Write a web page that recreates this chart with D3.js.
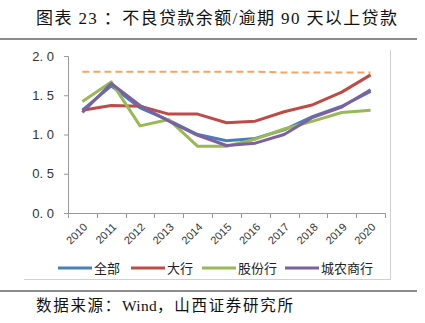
<!DOCTYPE html>
<html><head><meta charset="utf-8">
<script src="https://cdn.jsdelivr.net/npm/d3@7"></script>
<style>
html,body{margin:0;padding:0;background:#fff;}
svg{display:block;}
text{white-space:pre;}
</style></head>
<body>
<svg id="c" width="425" height="323"></svg>
<script>
const years = ["2010","2011","2012","2013","2014","2015","2016","2017","2018","2019","2020"];
const allBanks   = [1.31,1.62,1.34,1.18,1.00,0.92,0.95,1.06,1.23,1.36,1.55];
const bigBanks   = [1.31,1.37,1.36,1.26,1.26,1.15,1.17,1.29,1.38,1.54,1.76];
const jointStock = [1.42,1.67,1.11,1.19,0.85,0.85,0.94,1.07,1.17,1.28,1.31];
const cityRural  = [1.28,1.65,1.37,1.17,0.99,0.86,0.89,1.00,1.22,1.35,1.57];
const refLine    = [1.80,1.80,1.80,1.80,1.80,1.80,1.80,1.79,1.79,1.79,1.79];
const seriesNames = ["全部","大行","股份行","城农商行"];
const yTicks = [0,0.5,1.0,1.5,2.0];
const yTickLabels = ["0. 0","0. 5","1. 0","1. 5","2. 0"];
const titleText = "图表 23 ：不良贷款余额/逾期 90 天以上贷款";
const sourceParts = ["数据来源：","Wind","，山西证券研究所"];

const colors = ["#4A7EBB","#BE4B48","#98B954","#7D60A0"];
const svg = d3.select("#c");
const cjk = "'Liberation Serif','Noto Sans CJK SC',serif";
const sans = "'Liberation Sans','Noto Sans CJK SC',sans-serif";

// title & rules
svg.append("text").attr("x",36).attr("y",24).attr("font-family",cjk).attr("font-size",17)
  .attr("textLength",361).attr("lengthAdjust","spacing")
  .attr("fill","#111").text(titleText);
svg.append("line").attr("x1",0).attr("x2",417).attr("y1",39).attr("y2",39).attr("stroke","#666").attr("stroke-width",1.5);
svg.append("line").attr("x1",0).attr("x2",417).attr("y1",291).attr("y2",291).attr("stroke","#666").attr("stroke-width",1.5);
const src = svg.append("text").attr("x",36).attr("y",311).attr("font-family",cjk).attr("font-size",15.5).attr("fill","#111");
sourceParts.forEach((p,i)=>{
  src.append("tspan").attr("letter-spacing", i===1 ? 0.3 : 1.7).text(p);
});

// chart frame (right & bottom)
svg.append("path").attr("d","M390.5,50 V279.5 H24").attr("fill","none").attr("stroke","#d0d0d0").attr("stroke-width",1);

const x = d3.scaleBand().domain(years).range([68,385]).padding(0);
const y = d3.scaleLinear().domain([0,2]).range([213,56]);
const cx = d => x(d) + x.bandwidth()/2;

// y axis
const ya = svg.append("g").attr("transform","translate(68,0)")
  .call(d3.axisLeft(y).tickValues(yTicks).tickSize(4).tickPadding(10)
    .tickFormat((d,i)=>yTickLabels[i]));
ya.select(".domain").attr("stroke","#999");
ya.selectAll(".tick line").attr("stroke","#999");
ya.selectAll("text").attr("font-family",sans).attr("font-size",13).attr("fill","#333");

// x axis: ticks at band boundaries
const xa = svg.append("g").attr("transform","translate(0,213)");
xa.append("line").attr("x1",68).attr("x2",385).attr("y1",0.5).attr("y2",0.5).attr("stroke","#999");
const bounds = years.map(d=>x(d)).concat([x(years[years.length-1])+x.bandwidth()]);
xa.selectAll("line.t").data(bounds).enter().append("line").attr("class","t")
  .attr("x1",d=>Math.round(d)+0.5).attr("x2",d=>Math.round(d)+0.5).attr("y1",0).attr("y2",5).attr("stroke","#999");
xa.selectAll("text").data(years).enter().append("text")
  .attr("transform",d=>`translate(${cx(d)+3},${12}) rotate(-45)`)
  .attr("text-anchor","end").attr("dy","0.35em")
  .attr("font-family",sans).attr("font-size",11).attr("fill","#333").text(d=>d);

// reference dashed line
const line = d3.line().x((d,i)=>cx(years[i])).y(d=>y(d));
svg.append("path").datum(refLine).attr("d",line).attr("fill","none")
  .attr("stroke","#F9A263").attr("stroke-width",2).attr("stroke-dasharray","7,4");

// series
const data = [allBanks,bigBanks,jointStock,cityRural];
data.forEach((s,k)=>{
  svg.append("path").datum(s).attr("d",line).attr("fill","none")
    .attr("stroke",colors[k]).attr("stroke-width",3).attr("stroke-linejoin","round");
});

// legend
const legX = [58,131,202,285];
const lg = svg.append("g");
seriesNames.forEach((n,k)=>{
  lg.append("line").attr("x1",legX[k]).attr("x2",legX[k]+34).attr("y1",268).attr("y2",268)
    .attr("stroke",colors[k]).attr("stroke-width",3);
  lg.append("text").attr("x",legX[k]+36).attr("y",268).attr("dy","0.36em")
    .attr("font-family",sans).attr("font-size",13).attr("fill","#222").text(n);
});
</script>
</body></html>
